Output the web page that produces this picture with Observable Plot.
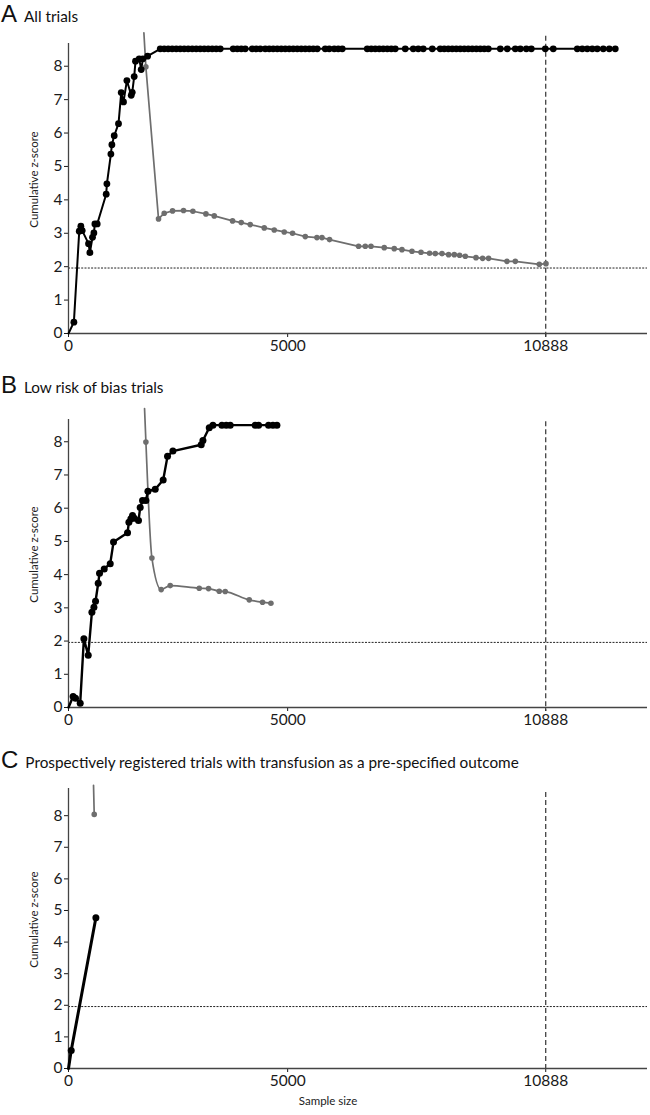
<!DOCTYPE html>
<html><head><meta charset="utf-8">
<script src="https://cdn.jsdelivr.net/npm/d3@7"></script>
<script src="https://cdn.jsdelivr.net/npm/@observablehq/plot@0.6"></script>
<style>
body{margin:0;background:#fff;}
#page{position:relative;width:650px;height:1115px;overflow:hidden;background:#fff}
.title{position:absolute;left:1px;white-space:nowrap;line-height:21px;color:#111}
.title .letter{font-family:"Liberation Sans",Arial,sans-serif;font-size:24px}
.title .sub{font-family:Lato,sans-serif;font-size:15.3px;margin-left:7px}
.panel{position:absolute;left:0}
</style></head>
<body><div id="page"></div>
<script>
// ---- shared axis info ----
const xTicks = [0, 5000, 10888];
const yTicks = [0, 1, 2, 3, 4, 5, 6, 7, 8];
const requiredInformationSize = 10888;
const conventionalBoundary = 1.96;
const panelLetters = ["A", "B", "C"];
const panelTitles = [
  "All trials",
  "Low risk of bias trials",
  "Prospectively registered trials with transfusion as a pre-specified outcome"
];
const yLabel = "Cumulative z-score";
const xLabel = "Sample size";

// ---- Panel A: cumulative z-curve (black) ----
const aZcurveN = [0, 123, 245, 282, 313, 457, 488, 548, 579, 602, 655, 860, 876, 967, 990, 1043, 1141, 1203, 1255, 1332, 1431, 1454, 1499, 1529, 1613, 1659, 1697, 1804,
  2093, 2184, 2275, 2366, 2458, 2549, 2640, 2731, 2823, 2914, 3005, 3097, 3188, 3279, 3370, 3462,
  3758, 3850, 3941, 4032,
  4192, 4283, 4375,
  4489, 4580, 4671, 4763, 4854, 4945, 5036, 5128, 5219, 5310, 5402, 5493, 5584, 5675,
  5858, 5949, 6063, 6154, 6246,
  6816, 6907, 6999, 7090, 7181, 7273, 7364, 7455,
  7683,
  7866, 7980, 8094,
  8300,
  8482, 8573, 8665, 8756, 8847, 8938, 9030, 9121, 9212, 9304, 9395, 9486, 9578,
  9852, 10011,
  10194, 10308, 10445, 10559,
  10878, 11060,
  11608, 11722, 11836, 11950, 12064,
  12201, 12338, 12475];
const aZcurveZ = [0, 0.34, 3.06, 3.21, 3.08, 2.69, 2.42, 2.88, 3.01, 3.28, 3.28, 4.17, 4.48, 5.37, 5.65, 5.92, 6.28, 7.21, 6.93, 7.57, 7.13, 7.22, 7.69, 8.15, 8.22, 7.90, 8.22, 8.30,
  8.52, 8.52, 8.52, 8.52, 8.52, 8.52, 8.52, 8.52, 8.52, 8.52, 8.52, 8.52, 8.52, 8.52, 8.52, 8.52,
  8.52, 8.52, 8.52, 8.52,
  8.52, 8.52, 8.52,
  8.52, 8.52, 8.52, 8.52, 8.52, 8.52, 8.52, 8.52, 8.52, 8.52, 8.52, 8.52, 8.52, 8.52,
  8.52, 8.52, 8.52, 8.52, 8.52,
  8.52, 8.52, 8.52, 8.52, 8.52, 8.52, 8.52, 8.52,
  8.52,
  8.52, 8.52, 8.52,
  8.52,
  8.52, 8.52, 8.52, 8.52, 8.52, 8.52, 8.52, 8.52, 8.52, 8.52, 8.52, 8.52, 8.52,
  8.52, 8.52,
  8.52, 8.52, 8.52, 8.52,
  8.52, 8.52,
  8.52, 8.52, 8.52, 8.52, 8.52,
  8.52, 8.52, 8.52];
// Panel A: monitoring boundary (grey)
const aBoundaryN = [1720, 1765, 2054, 2184, 2374, 2624, 2838, 3135, 3325, 3743, 3941, 4146, 4466, 4694, 4922, 5112, 5402, 5668, 5783, 5956, 6618, 6771, 6901, 7204, 7432, 7608, 7836, 8042, 8238, 8368, 8521, 8672, 8802, 8923, 9053, 9297, 9448, 9584, 10004, 10194, 10741, 10894];
const aBoundaryZ = [9.0, 7.98, 3.43, 3.60, 3.67, 3.68, 3.66, 3.58, 3.52, 3.37, 3.32, 3.26, 3.16, 3.10, 3.04, 3.00, 2.90, 2.87, 2.87, 2.81, 2.61, 2.61, 2.61, 2.57, 2.54, 2.51, 2.46, 2.43, 2.40, 2.39, 2.39, 2.36, 2.36, 2.34, 2.31, 2.27, 2.25, 2.25, 2.16, 2.16, 2.07, 2.09];

// ---- Panel B ----
const bZcurveN = [0, 105, 160, 267, 351, 450, 534, 580, 617, 678, 708, 815, 952, 1027, 1347, 1378, 1424, 1461, 1500, 1597, 1636, 1689, 1766, 1812, 1978, 2160, 2259, 2382, 3028, 3067, 3211, 3295, 3500, 3599, 3690, 4260, 4337, 4564, 4664, 4755];
const bZcurveZ = [0, 0.33, 0.28, 0.13, 2.07, 1.57, 2.87, 3.02, 3.20, 3.74, 4.04, 4.17, 4.33, 4.98, 5.26, 5.58, 5.68, 5.78, 5.70, 5.63, 6.02, 6.23, 6.23, 6.51, 6.57, 6.85, 7.56, 7.72, 7.91, 8.04, 8.42, 8.50, 8.50, 8.50, 8.50, 8.50, 8.50, 8.50, 8.50, 8.50];
const bBoundaryN = [1735, 1766, 1903, 2115, 2321, 2983, 3195, 3439, 3576, 4124, 4427, 4618];
const bBoundaryZ = [9.0, 7.99, 4.50, 3.55, 3.67, 3.59, 3.58, 3.50, 3.49, 3.24, 3.17, 3.14];

// ---- Panel C ----
const cZcurveN = [0, 62, 625];
const cZcurveZ = [0, 0.57, 4.77];
const cBoundaryN = [571, 587];
const cBoundaryZ = [8.96, 8.04];

const zip = (N, Z) => N.map((n, i) => ({n, z: Z[i]}));

function panel({top, height, marginBottom, yMax, curveData, boundaryData, boundaryCurve, curveWidth, dotR, ruleTop, withXLabel}) {
  const marks = [
    Plot.ruleY([conventionalBoundary], {stroke: "#222", strokeWidth: 1, strokeDasharray: "2,1.3"}),
    Plot.ruleX([requiredInformationSize], {y1: ruleTop, y2: -0.12, stroke: "#333", strokeWidth: 1.2, strokeDasharray: "5,3"}),
    Plot.ruleY([0], {stroke: "#444", strokeWidth: 1.3}),
    Plot.ruleX([0], {stroke: "#444", strokeWidth: 1.3}),
    Plot.line(boundaryData, {x: "n", y: "z", stroke: "#6e6e6e", strokeWidth: 1.7, curve: boundaryCurve}),
    Plot.dot(boundaryData.slice(1), {x: "n", y: "z", r: 2.8, fill: "#6e6e6e"}),
    Plot.line(curveData, {x: "n", y: "z", stroke: "#000", strokeWidth: curveWidth}),
    Plot.dot(curveData.slice(1), {x: "n", y: "z", r: dotR, fill: "#000"}),
    Plot.text([yLabel], {text: d => d, frameAnchor: "left", textAnchor: "middle", rotate: -90, dx: -34, dy: -9, fontSize: 11.5, fill: "#222"})
  ];
  if (withXLabel) marks.push(Plot.text([xLabel], {text: d => d, frameAnchor: "bottom", textAnchor: "middle", dx: -30, dy: 36, fontSize: 11.5, fill: "#222"}));
  const svg = Plot.plot({
    width: 650, height,
    marginLeft: 68, marginRight: 3, marginTop: 13, marginBottom,
    style: {fontFamily: "Lato, sans-serif", fontSize: "15.5px", color: "#1a1a1a", background: "#fff", overflow: "visible"},
    x: {domain: [0, 13210], ticks: xTicks, tickSize: 4, tickPadding: 2, tickFormat: d3.format("d"), label: null},
    y: {domain: [0, yMax], ticks: yTicks, tickSize: 4, tickPadding: 2, tickFormat: d3.format("d"), label: null},
    marks
  });
  svg.classList.add("panel");
  svg.style.top = top + "px";
  return svg;
}

const page = document.getElementById("page");
const configs = [
  {top: 30, height: 330, marginBottom: 27, yMax: 8.68, curveData: zip(aZcurveN, aZcurveZ), boundaryData: zip(aBoundaryN, aBoundaryZ), boundaryCurve: "linear", curveWidth: 2, dotR: 3.4, ruleTop: 8.9, titleTop: 3},
  {top: 406, height: 330, marginBottom: 29, yMax: 8.67, curveData: zip(bZcurveN, bZcurveZ), boundaryData: zip(bBoundaryN, bBoundaryZ), boundaryCurve: "monotone-x", curveWidth: 2.4, dotR: 3.5, ruleTop: 8.6, titleTop: 374},
  {top: 775, height: 340, marginBottom: 47, yMax: 8.86, curveData: zip(cZcurveN, cZcurveZ), boundaryData: zip(cBoundaryN, cBoundaryZ), boundaryCurve: "linear", curveWidth: 3, dotR: 3.5, ruleTop: 8.73, titleTop: 749, withXLabel: true}
];
configs.forEach((c, i) => {
  const t = document.createElement("div");
  t.className = "title";
  t.style.top = c.titleTop + "px";
  t.innerHTML = `<span class="letter">${panelLetters[i]}</span><span class="sub">${panelTitles[i]}</span>`;
  page.appendChild(t);
  page.appendChild(panel(c));
});
</script>
</body></html>
